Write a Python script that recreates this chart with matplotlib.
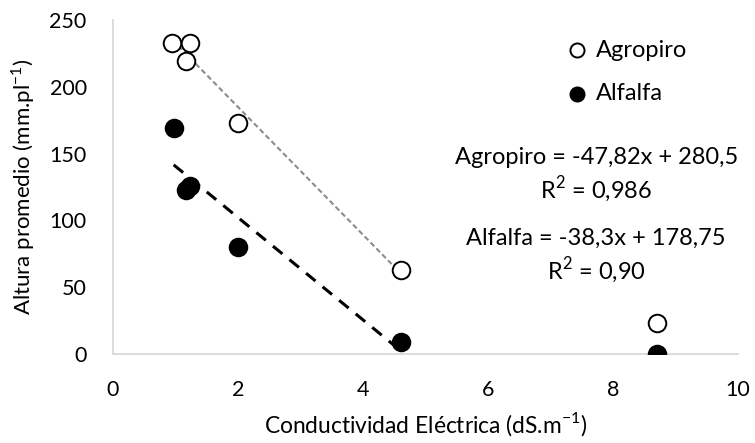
import numpy as np
import matplotlib.pyplot as plt

# datos
ce_agropiro = [0.95, 1.23, 1.17, 2.0, 4.6, 8.7]
alt_agropiro = [233, 233, 219, 173, 63, 23]
ce_alfalfa = [0.97, 1.17, 1.23, 2.0, 4.6, 8.7]
alt_alfalfa = [169, 123, 126, 80, 9, 0]

# rectas de ajuste (pendiente, ordenada, rango x)
fit_agropiro = (-47.82, 280.5, 0.95, 4.6)
fit_alfalfa = (-38.3, 178.75, 0.97, 4.6)

eq_agropiro = 'Agropiro = -47,82x + 280,5\nR$^{\\mathregular{2}}$ = 0,986'
eq_alfalfa = 'Alfalfa = -38,3x + 178,75\nR$^{\\mathregular{2}}$ = 0,90'

plt.rcParams['font.family'] = ['Lato', 'DejaVu Sans']
plt.rcParams['font.size'] = 14

fig = plt.figure(figsize=(7.55, 4.43), dpi=100)
ax = fig.add_axes([0.1497, 0.2009, 0.8278, 0.754])

def recta(fit):
    m, b, x0, x1 = fit
    xs = np.array([x0, x1])
    return xs, m * xs + b

xs, ys = recta(fit_agropiro)
ax.plot(xs, ys, color='#8c8c8c', lw=1.5, ls=(0, (2.5, 1.5)), zorder=2)
xs, ys = recta(fit_alfalfa)
ax.plot(xs, ys, color='black', lw=2.2, ls=(0, (4, 3)), zorder=2)

ax.scatter(ce_agropiro, alt_agropiro, s=160, facecolor='white',
           edgecolor='black', linewidth=1.4, zorder=3, label='Agropiro')
ax.scatter(ce_alfalfa, alt_alfalfa, s=160, facecolor='black',
           edgecolor='black', linewidth=1.4, zorder=3, label='Alfalfa')

ax.set_xlim(0, 10)
ax.set_ylim(0, 250)
ax.set_xticks([0, 2, 4, 6, 8, 10])
ax.set_yticks([0, 50, 100, 150, 200, 250])
ax.tick_params(length=0, labelsize=15.5, pad=19)
for s in ['top', 'right']:
    ax.spines[s].set_visible(False)
for s in ['left', 'bottom']:
    ax.spines[s].set_color('#d9d9d9')
    ax.spines[s].set_linewidth(1.3)

ax.set_xlabel('Conductividad Eléctrica (dS.m$^{\\mathregular{-1}}$)', fontsize=16.4, labelpad=7)
ax.set_ylabel('Altura promedio (mm.pl$^{\\mathregular{-1}}$)', fontsize=16, labelpad=9)

leg = ax.legend(loc='upper left', bbox_to_anchor=(0.69, 1.005), frameon=False,
                fontsize=17, markerscale=0.8, handletextpad=0.3,
                labelspacing=0.95, handlelength=1.0)

ax.text(0.773, 0.533, eq_agropiro, transform=ax.transAxes, ha='center',
        va='center', fontsize=17, linespacing=1.3)
ax.text(0.773, 0.29, eq_alfalfa, transform=ax.transAxes, ha='center',
        va='center', fontsize=17, linespacing=1.3)

fig.savefig('out.png', dpi=100)
